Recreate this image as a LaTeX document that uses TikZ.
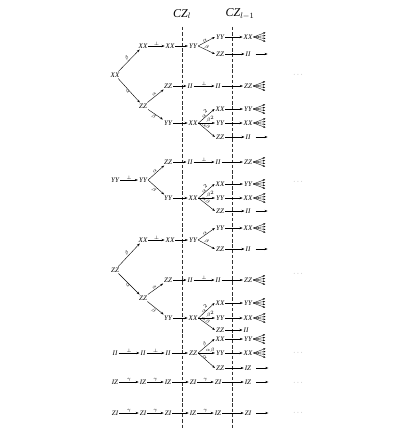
\documentclass[tikz,border=0pt]{standalone}
\usepackage{fontspec}
\setmainfont{Liberation Serif}
\usetikzlibrary{arrows.meta}
\begin{document}
\begin{tikzpicture}[x=1pt,y=-1pt,
  n/.style={font=\scriptsize\itshape, inner sep=1pt},
  arr/.style={-{Stealth[length=3pt,width=2.2pt]}, line width=0.4pt},
  farr/.style={-{Stealth[length=2.2pt,width=1.8pt]}, line width=0.35pt},
  lab/.style={font=\tiny, inner sep=0.6pt},
  flab/.style={font=\fontsize{3.4}{4}\selectfont, inner sep=0.2pt},
  cut/.style={line width=0.3pt, dash pattern=on 3.5pt off 1.8pt, black!80},
  hdr/.style={font=\large\itshape, inner sep=0pt},
  dots/.style={font=\scriptsize, inner sep=0pt, text=gray}]
\useasboundingbox (0,0) rectangle (415,433);
\newcommand\fanout[1]{\foreach \dy in {-4.5,-1.5,1.5,4.5}{\draw[farr] (#1.east) -- ++(12,\dy);}}
\newcommand\single[1]{\draw[arr] (#1.east) ++(4,0) -- ++(12,0);}
% headers and cuts
\node[hdr] (h1) at (182,14) {CZ$_l$};
\node[hdr] (h2) at (240,14) {CZ$_{l-1}$};
\coordinate (l1t) at (182,27); \coordinate (l1b) at (182,428);
\coordinate (l2t) at (232,27); \coordinate (l2b) at (232,428);
\draw[cut] (l1t) -- (l1b);
\draw[cut] (l2t) -- (l2b);
% ===== block 1 =====
\node[n] (r1) at (115,75) {XX};
\node[n] (a1) at (143,46) {XX};
\node[n] (a2) at (170,46) {XX};
\node[n] (a3) at (193,46) {YY};
\node[n] (a4) at (220,37) {YY};
\node[n] (a5) at (220,54) {ZZ};
\node[n] (a6) at (248,37) {XX};
\node[n] (a7) at (248,54) {II};
\node[n] (b1) at (143,106) {ZZ};
\node[n] (b2) at (168,86) {ZZ};
\node[n] (b3) at (190,86) {II};
\node[n] (b4) at (218,86) {II};
\node[n] (b5) at (248,86) {ZZ};
\node[n] (c1) at (168,123) {YY};
\node[n] (c2) at (193,123) {XX};
\node[n] (c3) at (220,109) {XX};
\node[n] (c4) at (220,123) {YY};
\node[n] (c5) at (220,137) {ZZ};
\node[n] (c6) at (248,109) {YY};
\node[n] (c7) at (248,123) {XX};
\node[n] (c8) at (248,137) {II};
\draw[arr] (r1) -- node[lab,sloped,above] {$\beta$} (a1);
\draw[arr] (r1) -- node[lab,sloped,below] {$\alpha$} (b1);
\draw[arr] (a1) -- node[lab,above] {$\perp$} (a2);
\draw[arr] (a2) -- (a3);
\draw[arr] (a3.east) -- node[flab,sloped,above,pos=0.45] {$\alpha$} (a4.west);
\draw[arr] (a3.east) -- node[flab,sloped,above,pos=0.45] {$\beta$} (a5.west);
\draw[arr] (a4) -- (a6); \fanout{a6}
\draw[arr] (a5) -- (a7); \single{a7}
\draw[arr] (b1) -- node[lab,sloped,above] {$\alpha$} (b2);
\draw[arr] (b1) -- node[lab,sloped,below] {$\beta$} (c1);
\draw[arr] (b2) -- (b3);
\draw[arr] (b3) -- node[lab,above] {$\perp$} (b4);
\draw[arr] (b4) -- (b5); \fanout{b5}
\draw[arr] (c1) -- (c2);
\draw[arr] (c2.east) -- node[flab,sloped,above,pos=0.5] {$\alpha^2$} (c3.west);
\draw[arr] (c2.east) -- node[flab,above,pos=0.72] {$\beta^2$} (c4.west);
\draw[arr] (c2.east) -- node[flab,sloped,above,pos=0.35] {$\alpha\beta$} (c5.west);
\draw[arr] (c3) -- (c6); \fanout{c6}
\draw[arr] (c4) -- (c7); \fanout{c7}
\draw[arr] (c5) -- (c8); \single{c8}
% ===== block 2 =====
\node[n] (r2) at (115,180) {YY};
\node[n] (d1) at (143,180) {YY};
\node[n] (d2) at (168,162) {ZZ};
\node[n] (d3) at (190,162) {II};
\node[n] (d4) at (218,162) {II};
\node[n] (d5) at (248,162) {ZZ};
\node[n] (e1) at (168,198) {YY};
\node[n] (e2) at (193,198) {XX};
\node[n] (e3) at (220,184) {XX};
\node[n] (e4) at (220,198) {YY};
\node[n] (e5) at (220,211) {ZZ};
\node[n] (e6) at (248,184) {YY};
\node[n] (e7) at (248,198) {XX};
\node[n] (e8) at (248,211) {II};
\draw[arr] (r2) -- node[lab,above] {$\perp$} (d1);
\draw[arr] (d1.east) -- node[lab,sloped,above] {$\alpha$} (d2);
\draw[arr] (d1.east) -- node[lab,sloped,below] {$\beta$} (e1);
\draw[arr] (d2) -- (d3);
\draw[arr] (d3) -- node[lab,above] {$\perp$} (d4);
\draw[arr] (d4) -- (d5); \fanout{d5}
\draw[arr] (e1) -- (e2);
\draw[arr] (e2.east) -- node[flab,sloped,above,pos=0.5] {$\alpha^2$} (e3.west);
\draw[arr] (e2.east) -- node[flab,above,pos=0.72] {$\beta^2$} (e4.west);
\draw[arr] (e2.east) -- node[flab,sloped,above,pos=0.35] {$\alpha\beta$} (e5.west);
\draw[arr] (e3) -- (e6); \fanout{e6}
\draw[arr] (e4) -- (e7); \fanout{e7}
\draw[arr] (e5) -- (e8); \single{e8}
% ===== block 3 =====
\node[n] (r3) at (115,270) {ZZ};
\node[n] (f1) at (143,240) {XX};
\node[n] (f2) at (170,240) {XX};
\node[n] (f3) at (193,240) {YY};
\node[n] (f4) at (220,228) {YY};
\node[n] (f5) at (220,249) {ZZ};
\node[n] (f6) at (248,228) {XX};
\node[n] (f7) at (248,249) {II};
\node[n] (g1) at (143,298) {ZZ};
\node[n] (g2) at (168,280) {ZZ};
\node[n] (g3) at (190,280) {II};
\node[n] (g4) at (218,280) {II};
\node[n] (g5) at (248,280) {ZZ};
\node[n] (k1) at (168,318) {YY};
\node[n] (k2) at (193,318) {XX};
\node[n] (k3) at (220,303) {XX};
\node[n] (k4) at (220,318) {YY};
\node[n] (k5) at (220,330) {ZZ};
\node[n] (k6) at (248,303) {YY};
\node[n] (k7) at (248,318) {XX};
\node[n] (k8) at (246,330) {II};
\draw[arr] (r3) -- node[lab,sloped,above] {$\beta$} (f1);
\draw[arr] (r3) -- node[lab,sloped,below] {$\alpha$} (g1);
\draw[arr] (f1) -- node[lab,above] {$\perp$} (f2);
\draw[arr] (f2) -- (f3);
\draw[arr] (f3.east) -- node[flab,sloped,above,pos=0.45] {$\alpha$} (f4.west);
\draw[arr] (f3.east) -- node[flab,sloped,above,pos=0.45] {$\beta$} (f5.west);
\draw[arr] (f4) -- (f6); \fanout{f6}
\draw[arr] (f5) -- (f7); \single{f7}
\draw[arr] (g1) -- node[lab,sloped,above] {$\alpha$} (g2);
\draw[arr] (g1) -- node[lab,sloped,below] {$\beta$} (k1);
\draw[arr] (g2) -- (g3);
\draw[arr] (g3) -- node[lab,above] {$\perp$} (g4);
\draw[arr] (g4) -- (g5); \fanout{g5}
\draw[arr] (k1) -- (k2);
\draw[arr] (k2.east) -- node[flab,sloped,above,pos=0.5] {$\alpha^2$} (k3.west);
\draw[arr] (k2.east) -- node[flab,above,pos=0.72] {$\beta^2$} (k4.west);
\draw[arr] (k2.east) -- node[flab,sloped,above,pos=0.35] {$\alpha\beta$} (k5.west);
\draw[arr] (k3) -- (k6); \fanout{k6}
\draw[arr] (k4) -- (k7); \fanout{k7}
\draw[arr] (k5) -- (k8);
% ===== II row =====
\node[n] (m0) at (115,353) {II};
\node[n] (m1) at (143,353) {II};
\node[n] (m2) at (168,353) {II};
\node[n] (m3) at (193,353) {ZZ};
\node[n] (m4) at (220,339) {XX};
\node[n] (m5) at (220,353) {YY};
\node[n] (m6) at (220,368) {ZZ};
\node[n] (m7) at (248,339) {YY};
\node[n] (m8) at (248,353) {XX};
\node[n] (m9) at (248,368) {IZ};
\draw[arr] (m0) -- node[lab,above] {$\perp$} (m1);
\draw[arr] (m1) -- node[lab,above] {$\perp$} (m2);
\draw[arr] (m2) -- (m3);
\draw[arr] (m3.east) -- node[flab,sloped,above,pos=0.5] {$\beta$} (m4.west);
\draw[arr] (m3.east) -- node[flab,above,pos=0.72] {$\alpha\beta$} (m5.west);
\draw[arr] (m3.east) -- node[flab,sloped,above,pos=0.35] {$\alpha$} (m6.west);
\draw[arr] (m4) -- (m7); \fanout{m7}
\draw[arr] (m5) -- (m8); \fanout{m8}
\draw[arr] (m6) -- (m9); \single{m9}
% ===== IZ row =====
\node[n] (p0) at (115,382) {IZ};
\node[n] (p1) at (143,382) {IZ};
\node[n] (p2) at (168,382) {IZ};
\node[n] (p3) at (193,382) {ZI};
\node[n] (p4) at (218,382) {ZI};
\node[n] (p5) at (248,382) {IZ};
\draw[arr] (p0) -- node[lab,above] {$\gamma$} (p1);
\draw[arr] (p1) -- node[lab,above] {$\gamma$} (p2);
\draw[arr] (p2) -- (p3);
\draw[arr] (p3) -- node[lab,above] {$\gamma$} (p4);
\draw[arr] (p4) -- (p5); \single{p5}
% ===== ZI row =====
\node[n] (q0) at (115,413) {ZI};
\node[n] (q1) at (143,413) {ZI};
\node[n] (q2) at (168,413) {ZI};
\node[n] (q3) at (193,413) {IZ};
\node[n] (q4) at (218,413) {IZ};
\node[n] (q5) at (248,413) {ZI};
\draw[arr] (q0) -- node[lab,above] {$\gamma$} (q1);
\draw[arr] (q1) -- node[lab,above] {$\gamma$} (q2);
\draw[arr] (q2) -- (q3);
\draw[arr] (q3) -- node[lab,above] {$\gamma$} (q4);
\draw[arr] (q4) -- (q5); \single{q5}
% dots
\node[dots] (t1) at (298,75) {$\cdots$};
\node[dots] (t2) at (298,182) {$\cdots$};
\node[dots] (t3) at (298,274) {$\cdots$};
\node[dots] (t4) at (298,353) {$\cdots$};
\node[dots] (t5) at (298,383) {$\cdots$};
\node[dots] (t6) at (298,413) {$\cdots$};
\end{tikzpicture}
\end{document}
